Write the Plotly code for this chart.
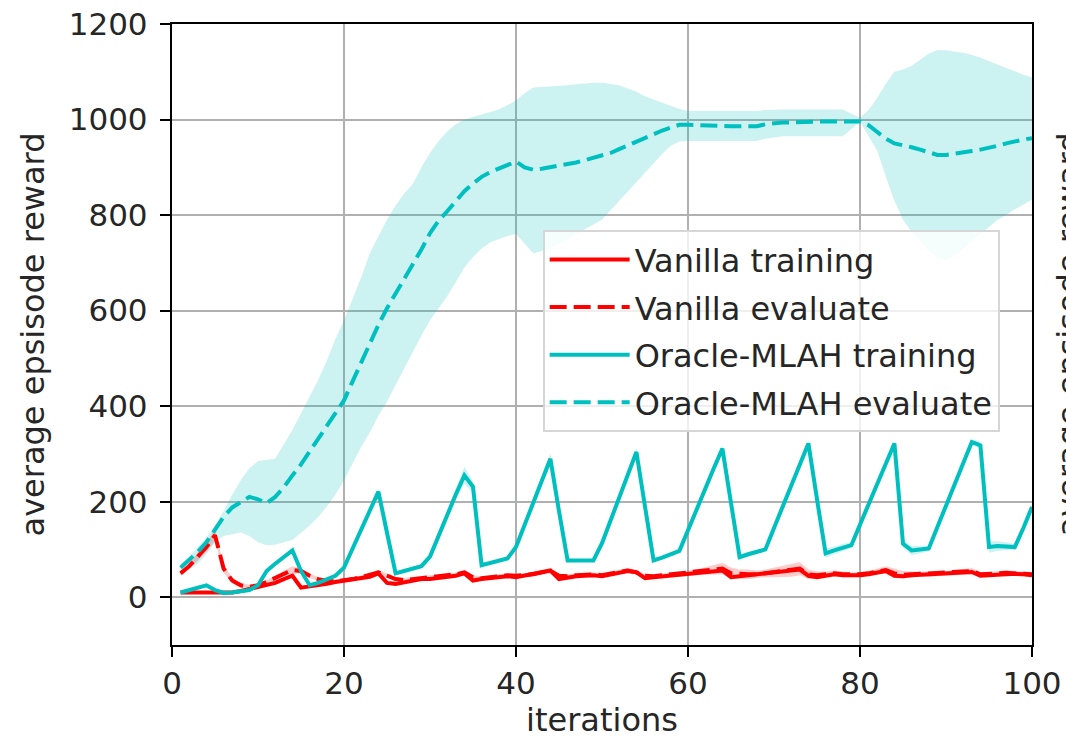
import plotly.graph_objects as go

# Training iterations
iterations = list(range(1, 101))

# Vanilla agent: mean reward during training and evaluation
vanilla_training = [
    10, 10, 9, 8, 8, 8, 10, 13, 17, 20,
    25, 30, 38, 45, 20, 22, 25, 28, 32, 35,
    37, 40, 43, 50, 30, 28, 32, 35, 38, 38,
    40, 42, 45, 50, 35, 38, 40, 42, 44, 42,
    45, 48, 52, 56, 38, 42, 44, 45, 46, 44,
    48, 50, 55, 52, 40, 42, 44, 45, 47, 48,
    50, 52, 55, 56, 42, 44, 46, 46, 48, 50,
    52, 55, 58, 45, 42, 45, 48, 46, 45, 46,
    48, 52, 55, 45, 44, 46, 47, 46, 47, 48,
    50, 52, 53, 45, 46, 48, 50, 49, 48, 46,
]
vanilla_evaluate = [
    50, 65, 85, 105, 130, 60, 35, 25, 22, 25,
    32, 40, 50, 57, 55, 45, 38, 34, 33, 35,
    38, 42, 46, 52, 45, 38, 36, 38, 40, 42,
    43, 45, 48, 52, 42, 40, 42, 44, 46, 45,
    46, 48, 52, 55, 45, 44, 46, 47, 48, 46,
    50, 53, 56, 52, 45, 44, 46, 47, 48, 50,
    52, 55, 58, 60, 50, 48, 48, 48, 50, 52,
    54, 57, 60, 48, 46, 48, 50, 48, 47, 48,
    50, 54, 57, 50, 47, 48, 49, 48, 49, 50,
    51, 53, 55, 48, 48, 50, 51, 50, 49, 48,
]
vanilla_evaluate_std = [
    5, 6, 8, 10, 12, 8, 6, 5, 4, 4,
    4, 5, 6, 8, 6, 5, 4, 4, 4, 4,
    4, 4, 4, 5, 4, 4, 4, 4, 4, 4,
    4, 4, 4, 5, 4, 4, 4, 4, 4, 4,
    4, 4, 5, 5, 4, 4, 4, 4, 4, 4,
    4, 5, 5, 5, 4, 4, 4, 4, 5, 5,
    6, 8, 10, 12, 12, 10, 10, 8, 8, 10,
    12, 14, 14, 10, 8, 6, 6, 6, 5, 5,
    5, 6, 8, 10, 8, 6, 5, 5, 5, 5,
    6, 6, 6, 5, 5, 5, 5, 5, 5, 5,
]

# Oracle-MLAH agent: mean reward during training and evaluation
oracle_training = [
    10, 15, 20, 25, 15, 9, 10, 12, 15, 25,
    55, 70, 85, 98, 55, 25, 30, 38, 45, 62,
    102, 142, 183, 221, 135, 50, 55, 60, 65, 85,
    130, 175, 215, 255, 231, 67, 72, 76, 81, 105,
    150, 197, 244, 290, 180, 77, 77, 77, 77, 113,
    160, 210, 258, 304, 190, 77, 83, 89, 97, 140,
    185, 230, 270, 311, 200, 84, 90, 95, 100, 145,
    190, 235, 280, 322, 205, 92, 98, 104, 109, 152,
    195, 240, 282, 322, 112, 98, 100, 102, 147, 192,
    237, 282, 325, 318, 105, 107, 107, 105, 145, 189,
]
oracle_training_std = [
    3, 3, 3, 3, 3, 3, 3, 3, 3, 3,
    3, 3, 4, 5, 4, 3, 3, 3, 3, 3,
    3, 4, 5, 6, 5, 3, 3, 3, 3, 3,
    4, 6, 10, 18, 12, 4, 3, 3, 3, 3,
    4, 6, 8, 12, 6, 4, 3, 3, 3, 3,
    3, 4, 6, 8, 5, 4, 3, 3, 3, 3,
    3, 4, 5, 6, 5, 6, 5, 4, 3, 3,
    3, 4, 5, 6, 6, 10, 8, 8, 6, 4,
    3, 4, 5, 6, 8, 10, 8, 6, 4, 3,
    3, 4, 6, 8, 12, 10, 8, 6, 4, 3,
]
oracle_evaluate = [
    62, 78, 95, 115, 143, 168, 188, 200, 210, 205,
    197, 210, 230, 255, 278, 305, 332, 360, 386, 412,
    452, 492, 532, 570, 605, 635, 668, 695, 728, 762,
    788, 808, 830, 850, 866, 880, 890, 898, 905, 912,
    900, 895, 897, 900, 902, 905, 910, 915, 920, 923,
    930, 938, 946, 955, 962, 970, 977, 983, 989, 989,
    988, 987, 986, 986, 986, 986, 986, 986, 990, 993,
    994, 994, 995, 995, 995, 996, 996, 996, 996, 996,
    988, 975, 960, 950, 947, 942, 937, 932, 926, 926,
    928, 931, 934, 937, 940, 945, 950, 955, 958, 961,
]
oracle_evaluate_upper = [
    70, 85, 105, 125, 150, 180, 215, 245, 270, 285,
    288, 290, 320, 350, 385, 420, 455, 495, 540, 580,
    625, 670, 720, 755, 790, 820, 845, 865, 900, 930,
    955, 975, 990, 1000, 1005, 1010, 1015, 1021, 1030, 1040,
    1055, 1067, 1068, 1069, 1070, 1072, 1074, 1076, 1077, 1077,
    1075, 1072, 1065, 1058, 1049, 1042, 1035, 1028, 1022, 1018,
    1018, 1018, 1018, 1018, 1018, 1018, 1018, 1018, 1020, 1021,
    1021, 1021, 1021, 1021, 1021, 1021, 1021, 1021, 1012, 1004,
    1020, 1045, 1075, 1100, 1105, 1112, 1125, 1138, 1145, 1145,
    1142, 1140, 1135, 1130, 1122, 1115, 1108, 1100, 1094, 1088,
]
oracle_evaluate_lower = [
    50, 58, 70, 90, 115, 128, 132, 136, 128, 115,
    109, 110, 115, 120, 135, 150, 168, 190, 215, 245,
    280, 315, 345, 380, 410, 445, 480, 515, 548, 580,
    605, 630, 660, 690, 712, 730, 743, 750, 756, 761,
    740, 720, 725, 730, 740, 750, 760, 770, 780, 790,
    810, 830, 850, 870, 890, 910, 928, 945, 954, 955,
    955, 955, 955, 955, 955, 955, 955, 955, 960, 962,
    965, 965, 965, 965, 965, 965, 965, 965, 980, 996,
    965, 935, 880, 830, 790, 765, 745, 725, 712, 705,
    715, 730, 745, 760, 775, 790, 800, 812, 822, 832,
]

# Axis tick labels
x_ticks = [0, 20, 40, 60, 80, 100]
y_ticks = [0, 200, 400, 600, 800, 1000, 1200]

RED = "#ff0000"
CYAN = "#00bfbf"
TEXT = "#262626"
FONT = "DejaVu Sans"
DASH = "17px,7px"


def band(lo, hi, fill):
    """Shaded region between lo and hi."""
    return [
        go.Scatter(x=iterations, y=hi, mode="lines", line=dict(width=0),
                   hoverinfo="skip", showlegend=False),
        go.Scatter(x=iterations, y=lo, mode="lines", line=dict(width=0),
                   fill="tonexty", fillcolor=fill, hoverinfo="skip",
                   showlegend=False),
    ]


fig = go.Figure()

# shaded spreads
for tr in band(oracle_evaluate_lower, oracle_evaluate_upper, "rgba(0,191,191,0.2)"):
    fig.add_trace(tr)
for tr in band([m - s for m, s in zip(oracle_training, oracle_training_std)],
               [m + s for m, s in zip(oracle_training, oracle_training_std)],
               "rgba(0,191,191,0.2)"):
    fig.add_trace(tr)
for tr in band([m - s for m, s in zip(vanilla_evaluate, vanilla_evaluate_std)],
               [m + s for m, s in zip(vanilla_evaluate, vanilla_evaluate_std)],
               "rgba(255,0,0,0.2)"):
    fig.add_trace(tr)

# mean curves
fig.add_trace(go.Scatter(x=iterations, y=vanilla_training, mode="lines",
                         name="Vanilla training", legendgroup="a",
                         line=dict(color=RED, width=4)))
fig.add_trace(go.Scatter(x=iterations, y=vanilla_evaluate, mode="lines",
                         name="Vanilla evaluate", legendgroup="b",
                         line=dict(color=RED, width=4, dash=DASH)))
fig.add_trace(go.Scatter(x=iterations, y=oracle_training, mode="lines",
                         name="Oracle-MLAH training", legendgroup="c",
                         line=dict(color=CYAN, width=4)))
fig.add_trace(go.Scatter(x=iterations, y=oracle_evaluate, mode="lines",
                         name="Oracle-MLAH evaluate", legendgroup="d",
                         line=dict(color=CYAN, width=4, dash=DASH)))

axis_common = dict(
    showline=True, mirror=True, linecolor="black", linewidth=2.4,
    ticks="outside", ticklen=10, tickwidth=2.4, tickcolor="black",
    showgrid=True, gridcolor="#b0b0b0", gridwidth=2, zeroline=False,
    tickfont=dict(family=FONT, size=31, color=TEXT),
    automargin=False,
)

fig.update_xaxes(range=[0, 100], tickvals=x_ticks,
                 title=dict(text="iterations", font=dict(family=FONT, size=32, color=TEXT),
                            standoff=4),
                 **axis_common)
fig.update_yaxes(range=[-100, 1200], tickvals=y_ticks,
                 title=dict(text="average epsisode reward",
                            font=dict(family=FONT, size=32, color=TEXT), standoff=14),
                 ticklabelstandoff=6,
                 **axis_common)

fig.update_layout(
    width=1066, height=741,
    margin=dict(l=172, r=34, t=24, b=96),
    paper_bgcolor="white", plot_bgcolor="white",
    font=dict(family=FONT, size=32, color=TEXT),
    legend=dict(
        x=0.431, y=0.668, xanchor="left", yanchor="top",
        bgcolor="rgba(255,255,255,0.8)", bordercolor="#d6d6d6", borderwidth=2,
        font=dict(family=FONT, size=32, color=TEXT),
        tracegroupgap=3, itemwidth=80,
    ),
    annotations=[
        dict(text="average epsisode reward", xref="paper", yref="paper",
             x=1.043, y=0.5, textangle=-90, showarrow=False,
             xanchor="center", yanchor="middle",
             font=dict(family=FONT, size=32, color=TEXT)),
    ],
)

fig.write_html("out.html")
